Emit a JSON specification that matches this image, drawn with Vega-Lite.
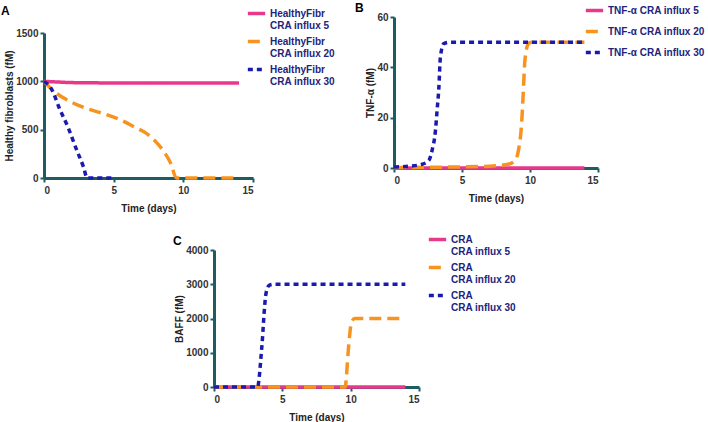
{
  "$schema": "https://vega.github.io/schema/vega-lite/v6.json",
  "background": "white",
  "padding": {"left": 1, "top": 0, "right": 0, "bottom": 0},
  "config": {
    "font": "Liberation Sans",
    "view": {"stroke": null},
    "axis": {"domainColor": "#1d5c60", "domainWidth": 3, "tickColor": "#1d5c60", "tickWidth": 2, "tickSize": 4, "grid": false, "labelFont": "Liberation Sans", "labelFontWeight": "bold", "labelFontSize": 10, "labelColor": "#333333", "titleFontSize": 10, "titleFontWeight": "bold", "titleColor": "#222222", "labelPadding": 2},
    "axisX": {"titlePadding": 8, "labelPadding": 3},
    "axisY": {"titlePadding": 1},
    "legend": {"labelFontSize": 10, "labelFontWeight": "bold", "labelColor": "#23237a", "symbolType": "stroke", "symbolSize": 300, "symbolStrokeWidth": 3.5, "labelOffset": 3},
    "title": {"fontSize": 12, "fontWeight": "bold", "anchor": "start", "color": "#000000", "frame": "group", "offset": 0}
  },
  "datasets": {
    "a": [
      {"t": 0, "v": 1000, "s": "HealthyFibr|CRA influx 5"},
      {"t": 1, "v": 993, "s": "HealthyFibr|CRA influx 5"},
      {"t": 2, "v": 987, "s": "HealthyFibr|CRA influx 5"},
      {"t": 4, "v": 984, "s": "HealthyFibr|CRA influx 5"},
      {"t": 8, "v": 983, "s": "HealthyFibr|CRA influx 5"},
      {"t": 14, "v": 982, "s": "HealthyFibr|CRA influx 5"},
      {"t": 0, "v": 1000, "s": "HealthyFibr|CRA influx 20"},
      {"t": 0.65, "v": 905, "s": "HealthyFibr|CRA influx 20"},
      {"t": 2, "v": 782, "s": "HealthyFibr|CRA influx 20"},
      {"t": 3.2, "v": 712, "s": "HealthyFibr|CRA influx 20"},
      {"t": 4.4, "v": 660, "s": "HealthyFibr|CRA influx 20"},
      {"t": 5.4, "v": 607, "s": "HealthyFibr|CRA influx 20"},
      {"t": 6.6, "v": 519, "s": "HealthyFibr|CRA influx 20"},
      {"t": 7.3, "v": 467, "s": "HealthyFibr|CRA influx 20"},
      {"t": 8.0, "v": 379, "s": "HealthyFibr|CRA influx 20"},
      {"t": 8.6, "v": 274, "s": "HealthyFibr|CRA influx 20"},
      {"t": 9.1, "v": 151, "s": "HealthyFibr|CRA influx 20"},
      {"t": 9.5, "v": 0, "s": "HealthyFibr|CRA influx 20"},
      {"t": 14, "v": 0, "s": "HealthyFibr|CRA influx 20"},
      {"t": 0, "v": 1000, "s": "HealthyFibr|CRA influx 30"},
      {"t": 0.53, "v": 923, "s": "HealthyFibr|CRA influx 30"},
      {"t": 1.13, "v": 712, "s": "HealthyFibr|CRA influx 30"},
      {"t": 1.74, "v": 519, "s": "HealthyFibr|CRA influx 30"},
      {"t": 2.34, "v": 291, "s": "HealthyFibr|CRA influx 30"},
      {"t": 2.83, "v": 116, "s": "HealthyFibr|CRA influx 30"},
      {"t": 3.1, "v": 0, "s": "HealthyFibr|CRA influx 30"},
      {"t": 5, "v": 0, "s": "HealthyFibr|CRA influx 30"}
    ],
    "b": [
      {"t": 0, "v": 0, "s": "TNF-α CRA influx 5"},
      {"t": 14, "v": 0, "s": "TNF-α CRA influx 5"},
      {"t": 0, "v": 0.2, "s": "TNF-α CRA influx 20"},
      {"t": 4.5, "v": 0.4, "s": "TNF-α CRA influx 20"},
      {"t": 7, "v": 0.7, "s": "TNF-α CRA influx 20"},
      {"t": 8.4, "v": 1.5, "s": "TNF-α CRA influx 20"},
      {"t": 8.9, "v": 3, "s": "TNF-α CRA influx 20"},
      {"t": 9.15, "v": 7, "s": "TNF-α CRA influx 20"},
      {"t": 9.4, "v": 19, "s": "TNF-α CRA influx 20"},
      {"t": 9.5, "v": 29.5, "s": "TNF-α CRA influx 20"},
      {"t": 9.63, "v": 43, "s": "TNF-α CRA influx 20"},
      {"t": 9.88, "v": 49.4, "s": "TNF-α CRA influx 20"},
      {"t": 10.1, "v": 50, "s": "TNF-α CRA influx 20"},
      {"t": 14, "v": 50, "s": "TNF-α CRA influx 20"},
      {"t": 0, "v": 0.4, "s": "TNF-α CRA influx 30"},
      {"t": 1.1, "v": 0.7, "s": "TNF-α CRA influx 30"},
      {"t": 2.07, "v": 1.5, "s": "TNF-α CRA influx 30"},
      {"t": 2.56, "v": 3, "s": "TNF-α CRA influx 30"},
      {"t": 2.8, "v": 7, "s": "TNF-α CRA influx 30"},
      {"t": 3.05, "v": 15, "s": "TNF-α CRA influx 30"},
      {"t": 3.17, "v": 23, "s": "TNF-α CRA influx 30"},
      {"t": 3.3, "v": 32, "s": "TNF-α CRA influx 30"},
      {"t": 3.41, "v": 44, "s": "TNF-α CRA influx 30"},
      {"t": 3.66, "v": 49.4, "s": "TNF-α CRA influx 30"},
      {"t": 4.15, "v": 50, "s": "TNF-α CRA influx 30"},
      {"t": 14, "v": 50, "s": "TNF-α CRA influx 30"}
    ],
    "c": [
      {"t": 0, "v": 0, "s": "CRA|CRA influx 5"},
      {"t": 14, "v": 0, "s": "CRA|CRA influx 5"},
      {"t": 0, "v": 0, "s": "CRA|CRA influx 20"},
      {"t": 9.6, "v": 0, "s": "CRA|CRA influx 20"},
      {"t": 9.68, "v": 250, "s": "CRA|CRA influx 20"},
      {"t": 9.8, "v": 940, "s": "CRA|CRA influx 20"},
      {"t": 9.93, "v": 1530, "s": "CRA|CRA influx 20"},
      {"t": 10.05, "v": 1880, "s": "CRA|CRA influx 20"},
      {"t": 10.3, "v": 2000, "s": "CRA|CRA influx 20"},
      {"t": 14, "v": 2000, "s": "CRA|CRA influx 20"},
      {"t": 0, "v": 0, "s": "CRA|CRA influx 30"},
      {"t": 3.19, "v": 0, "s": "CRA|CRA influx 30"},
      {"t": 3.3, "v": 250, "s": "CRA|CRA influx 30"},
      {"t": 3.43, "v": 840, "s": "CRA|CRA influx 30"},
      {"t": 3.55, "v": 1440, "s": "CRA|CRA influx 30"},
      {"t": 3.68, "v": 2230, "s": "CRA|CRA influx 30"},
      {"t": 3.8, "v": 2720, "s": "CRA|CRA influx 30"},
      {"t": 4.04, "v": 2970, "s": "CRA|CRA influx 30"},
      {"t": 4.4, "v": 3000, "s": "CRA|CRA influx 30"},
      {"t": 14, "v": 3000, "s": "CRA|CRA influx 30"}
    ]
  },
  "spacing": 16,
  "resolve": {"scale": {"color": "independent", "strokeDash": "independent", "x": "independent", "y": "independent"}, "legend": {"color": "independent", "strokeDash": "independent"}},
  "vconcat": [
    {
      "spacing": 19,
      "resolve": {"scale": {"color": "independent", "strokeDash": "independent", "x": "independent", "y": "independent"}, "legend": {"color": "independent", "strokeDash": "independent"}},
      "hconcat": [
        {
          "width": 209, "height": 161,
          "title": {"text": "A", "dx": -43, "dy": 19},
          "data": {"name": "a"},
          "mark": {"type": "line", "strokeWidth": 3.5, "interpolate": "monotone"},
          "encoding": {
            "x": {"field": "t", "type": "quantitative", "scale": {"domain": [0, 15]}, "axis": {"values": [0, 5, 10, 15], "title": "Time (days)"}},
            "y": {"field": "v", "type": "quantitative", "scale": {"domain": [0, 1500], "range": [161, 16]}, "axis": {"values": [0, 500, 1000, 1500], "format": "d", "title": "Healthy fibroblasts (fM)"}},
            "color": {"field": "s", "type": "nominal", "scale": {"domain": ["HealthyFibr|CRA influx 5", "HealthyFibr|CRA influx 20", "HealthyFibr|CRA influx 30"], "range": ["#e8388c", "#f7931e", "#1a1ab0"]}, "legend": {"title": null, "orient": "none", "legendX": 202, "legendY": -14, "labelExpr": "split(datum.label, '|')", "rowPadding": -8}},
            "strokeDash": {"field": "s", "type": "nominal", "scale": {"domain": ["HealthyFibr|CRA influx 5", "HealthyFibr|CRA influx 20", "HealthyFibr|CRA influx 30"], "range": [[1, 0], [12, 6], [5, 4]]}, "legend": {"title": null, "orient": "none", "legendX": 202, "legendY": -14, "labelExpr": "split(datum.label, '|')", "rowPadding": -8}}
          }
        },
        {
          "width": 204, "height": 151,
          "title": {"text": "B", "dx": -39, "dy": 19},
          "data": {"name": "b"},
          "mark": {"type": "line", "strokeWidth": 3.5, "interpolate": "monotone"},
          "encoding": {
            "x": {"field": "t", "type": "quantitative", "scale": {"domain": [0, 15]}, "axis": {"values": [0, 5, 10, 15], "title": "Time (days)"}},
            "y": {"field": "v", "type": "quantitative", "scale": {"domain": [0, 60]}, "axis": {"values": [0, 20, 40, 60], "format": "d", "title": "TNF-α (fM)"}},
            "color": {"field": "s", "type": "nominal", "scale": {"domain": ["TNF-α CRA influx 5", "TNF-α CRA influx 20", "TNF-α CRA influx 30"], "range": ["#e8388c", "#f7931e", "#1a1ab0"]}, "legend": {"title": null, "orient": "none", "legendX": 190, "legendY": -17, "rowPadding": 3}},
            "strokeDash": {"field": "s", "type": "nominal", "scale": {"domain": ["TNF-α CRA influx 5", "TNF-α CRA influx 20", "TNF-α CRA influx 30"], "range": [[1, 0], [12, 6], [5, 4]]}, "legend": {"title": null, "orient": "none", "legendX": 190, "legendY": -17, "rowPadding": 3}}
          }
        }
      ]
    },
    {
      "spacing": 0,
      "resolve": {"scale": {"color": "independent", "strokeDash": "independent", "x": "independent", "y": "independent"}, "legend": {"color": "independent", "strokeDash": "independent"}},
      "hconcat": [
        {"width": 129, "height": 1, "data": {"values": []}, "mark": "point"},
        {
          "width": 205, "height": 137,
          "title": {"text": "C", "dx": -41, "dy": 23},
          "data": {"name": "c"},
          "mark": {"type": "line", "strokeWidth": 3.5, "interpolate": "monotone"},
          "encoding": {
            "x": {"field": "t", "type": "quantitative", "scale": {"domain": [0, 15]}, "axis": {"values": [0, 5, 10, 15], "title": "Time (days)"}},
            "y": {"field": "v", "type": "quantitative", "scale": {"domain": [0, 4000]}, "axis": {"values": [0, 1000, 2000, 3000, 4000], "format": "d", "title": "BAFF (fM)"}},
            "color": {"field": "s", "type": "nominal", "scale": {"domain": ["CRA|CRA influx 5", "CRA|CRA influx 20", "CRA|CRA influx 30"], "range": ["#e8388c", "#f7931e", "#1a1ab0"]}, "legend": {"title": null, "orient": "none", "legendX": 213, "legendY": -21, "labelExpr": "split(datum.label, '|')", "rowPadding": -9}},
            "strokeDash": {"field": "s", "type": "nominal", "scale": {"domain": ["CRA|CRA influx 5", "CRA|CRA influx 20", "CRA|CRA influx 30"], "range": [[1, 0], [12, 6], [5, 4]]}, "legend": {"title": null, "orient": "none", "legendX": 213, "legendY": -21, "labelExpr": "split(datum.label, '|')", "rowPadding": -9}}
          }
        }
      ]
    }
  ]
}
